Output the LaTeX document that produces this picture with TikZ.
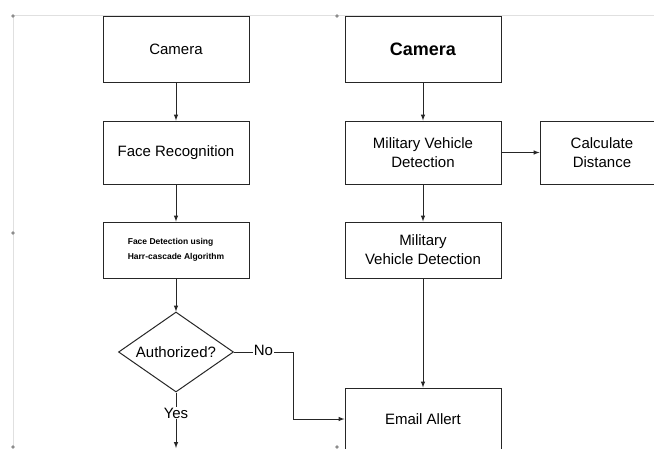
\documentclass[tikz,border=0pt]{standalone}
\usepackage{fontspec}
\setmainfont{Liberation Sans}
\usetikzlibrary{shapes.geometric}
\pgfdeclarelayer{edgelayer}
\pgfdeclarelayer{nodelayer}
\pgfsetlayers{edgelayer,nodelayer,main}
\tikzstyle{block}=[rectangle,fill=white,draw=black!85,line width=1pt,inner sep=0pt,align=center,font=\fontsize{15}{19}\selectfont]
\tikzstyle{decision}=[diamond,aspect=1.44,fill=white,draw=black!85,line width=1pt,inner sep=0pt,minimum width=115pt,minimum height=80pt,font=\fontsize{15}{19}\selectfont]
\tikzstyle{label}=[fill=white,inner sep=1pt,font=\fontsize{15}{19}\selectfont]
\tikzstyle{flow}=[-latex,draw=black!85,line width=1pt]
\tikzstyle{frame}=[draw=black!12,line width=0.8pt]
\tikzstyle{handle}=[fill=black!45]

\begin{document}
\begin{tikzpicture}[x=1pt,y=1pt]
	\useasboundingbox (0,0) rectangle (654,-448);
	\begin{pgfonlayer}{nodelayer}
		\clip (0,0) rectangle (654,-448);
		\node [style=block, minimum width=146pt, minimum height=66pt] (0) at (176,-49) {Camera};
		\node [style=block, minimum width=146pt, minimum height=63pt] (1) at (176,-152.5) {Face Recognition};
		\node [style=block, minimum width=146pt, minimum height=56pt, align=left, font=\fontsize{8.5}{15}\selectfont\bfseries] (2) at (176,-250) {Face Detection using\\Harr-cascade Algorithm};
		\node [style=decision] (3) at (176,-352) {Authorized?};
		\node [style=block, minimum width=156pt, minimum height=66pt, font=\fontsize{18}{22}\selectfont\bfseries] (4) at (423,-49) {Camera};
		\node [style=block, minimum width=156pt, minimum height=63pt] (5) at (423,-152.5) {Military Vehicle\\Detection};
		\node [style=block, minimum width=124pt, minimum height=63pt] (6) at (602,-152.5) {Calculate\\Distance};
		\node [style=block, minimum width=156pt, minimum height=56pt] (7) at (423,-250) {Military\\Vehicle Detection};
		\node [style=block, minimum width=156pt, minimum height=62pt] (8) at (423,-419) {Email Allert};
		\coordinate (9) at (176,-448);
		\coordinate (10) at (293,-352);
		\coordinate (11) at (293,-419);
	\end{pgfonlayer}
	\begin{pgfonlayer}{edgelayer}
		\draw [style=frame] (13,-15) -- (654,-15);
		\draw [style=frame] (13,-15) -- (13,-448);
		\fill [style=handle] (13,-16) circle (1.8);
		\fill [style=handle] (13,-233) circle (1.8);
		\fill [style=handle] (13,-447) circle (1.8);
		\fill [style=handle] (337,-16) circle (1.8);
		\fill [style=handle] (337,-447) circle (1.8);
		\draw [style=flow] (0) to (1);
		\draw [style=flow] (1) to (2);
		\draw [style=flow] (2) to (3);
		\draw [style=flow] (3) to node [style=label, pos=0.37] {Yes} (9);
		\draw [style=flow] (3) to node [style=label, pos=0.5, yshift=2pt] {No} (10) to (11) to (8);
		\draw [style=flow] (4) to (5);
		\draw [style=flow] (5) to (6);
		\draw [style=flow] (5) to (7);
		\draw [style=flow] (7) to (8);
	\end{pgfonlayer}
\end{tikzpicture}
\end{document}
